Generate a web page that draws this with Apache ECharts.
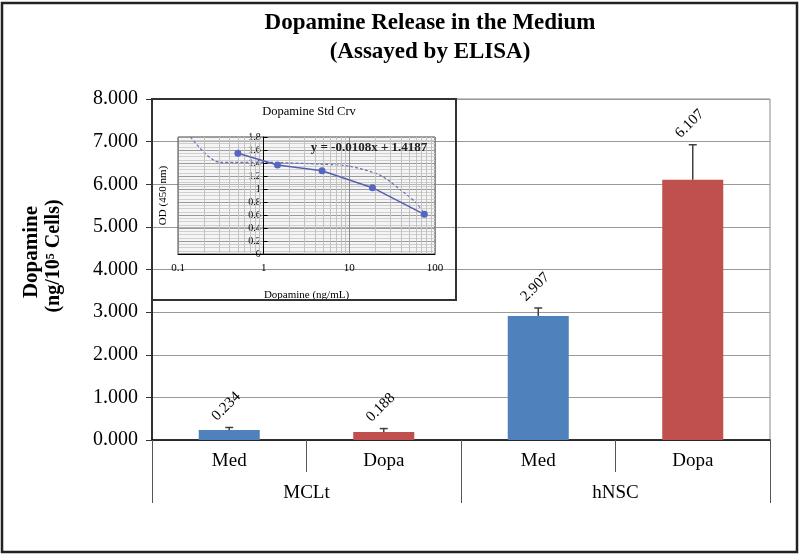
<!DOCTYPE html>
<html>
<head>
<meta charset="utf-8">
<script src="https://cdn.jsdelivr.net/npm/echarts@6/dist/echarts.min.js"></script>
<style>html,body{margin:0;padding:0;background:#fff}#c{width:800px;height:557px}</style>
</head>
<body>
<div id="c"></div>
<script>
// ---- main chart data ----
const treatments = ['Med', 'Dopa', 'Med', 'Dopa'];
const cellLines = ['MCLt', 'hNSC'];
const dopamine = [0.234, 0.188, 2.907, 6.107];
const errors = [0.06, 0.08, 0.19, 0.82];
const yTicks = [0, 1, 2, 3, 4, 5, 6, 7, 8];
const titleLines = ['Dopamine Release in the Medium', '(Assayed by ELISA)'];
// ---- inset standard curve data ----
const stdConc = [0.5, 1.45, 4.8, 18.6, 75];
const stdOD = [1.55, 1.37, 1.28, 1.02, 0.61];
const trendConc = [0.14, 0.31, 1, 5, 10, 23, 42, 61, 75];
const trendOD = [1.8, 1.41, 1.41, 1.38, 1.35, 1.21, 0.96, 0.78, 0.62];
const minorGridX = [0.2,0.3,0.4,0.5,0.6,0.7,0.8,0.9,2,3,4,5,6,7,8,9,20,30,40,50,60,70,80,90];
const equation = 'y = -0.0108x + 1.4187';

const colors = ['#4F81BD', '#C0504D', '#4F81BD', '#C0504D'];
const serif = '"Liberation Serif", "Times New Roman", serif';

const chart = echarts.init(document.getElementById('c'));
chart.setOption({
  animation: false,
  backgroundColor: '#fff',
  grid: [
    { left: 152, top: 99, right: 30, bottom: 117, show: true, borderColor: '#888', borderWidth: 1, backgroundColor: 'transparent', z: 0 },
    { left: 178, top: 137, width: 257, height: 117, show: true, borderColor: '#444', borderWidth: 1, backgroundColor: 'rgba(225,225,225,0.35)', z: 2 }
  ],
  xAxis: [
    {
      type: 'category', gridIndex: 0, data: treatments,
      axisLine: { lineStyle: { color: '#000', width: 1.5 } },
      axisTick: { show: true, interval: 0, length: 32, lineStyle: { color: '#555', width: 1 } },
      axisLabel: { interval: 0, margin: 12, fontFamily: serif, fontSize: 19, color: '#000' },
      splitLine: { show: false }
    },
    {
      type: 'category', gridIndex: 0, data: cellLines, position: 'bottom',
      axisLine: { show: false },
      axisTick: { show: true, interval: 0, length: 63, lineStyle: { color: '#555', width: 1 } },
      axisLabel: { interval: 0, margin: 44, fontFamily: serif, fontSize: 19, color: '#000' },
      splitLine: { show: false }
    },
    {
      type: 'log', logBase: 10, gridIndex: 1, min: 0.1, max: 100, z: 3,
      axisLine: { show: true, lineStyle: { color: '#000', width: 1 } },
      axisTick: { show: false },
      axisLabel: { margin: 9, fontFamily: serif, fontSize: 11, color: '#000' },
      splitLine: { show: true, lineStyle: { color: '#8a8a8a', width: 1 } },
      name: 'Dopamine (ng/mL)', nameLocation: 'middle', nameGap: 36,
      nameTextStyle: { fontFamily: serif, fontSize: 11, color: '#000' }
    }
  ],
  yAxis: [
    {
      type: 'value', gridIndex: 0, min: yTicks[0], max: yTicks[yTicks.length - 1], interval: 1,
      axisLine: { show: true, lineStyle: { color: '#000', width: 1.5 } },
      axisTick: { show: true, length: 6, lineStyle: { color: '#333' } },
      axisLabel: { margin: 14, fontFamily: serif, fontSize: 20, color: '#000', formatter: v => v.toFixed(3) },
      splitLine: { show: true, lineStyle: { color: '#999', width: 1 } }
    },
    {
      type: 'value', gridIndex: 1, min: 0, max: 1.8, interval: 0.2, offset: -85.7, z: 3,
      axisLine: { show: true, onZero: false, lineStyle: { color: '#000', width: 1 } },
      axisTick: { show: true, inside: true, length: 4, lineStyle: { color: '#000' } },
      axisLabel: { margin: 3, fontFamily: serif, fontSize: 10, color: '#000' },
      splitLine: { show: true, lineStyle: { color: '#9a9a9a', width: 1 } },
      minorTick: { show: false, splitNumber: 4 },
      minorSplitLine: { show: true, lineStyle: { color: '#cfcfcf', width: 1 } },
      name: 'OD (450 nm)', nameLocation: 'middle', nameGap: 95, nameRotate: 90,
      nameTextStyle: { fontFamily: serif, fontSize: 11, color: '#000' }
    }
  ],
  graphic: [
    { type: 'rect', shape: { x: 2, y: 3, width: 795, height: 549 }, style: { fill: 'none', stroke: '#222', lineWidth: 2.5 }, z: 10 },
    { type: 'text', x: 430, y: 23, style: { text: titleLines[0], fontFamily: serif, fontSize: 23, fontWeight: 'bold', fill: '#000', textAlign: 'center', textVerticalAlign: 'middle' }, z: 10 },
    { type: 'text', x: 430, y: 52, style: { text: titleLines[1], fontFamily: serif, fontSize: 23, fontWeight: 'bold', fill: '#000', textAlign: 'center', textVerticalAlign: 'middle' }, z: 10 },
    { type: 'rect', shape: { x: 152, y: 99, width: 304, height: 201 }, style: { fill: 'none', stroke: '#333', lineWidth: 2 }, z: 10 },
    { type: 'text', x: 309, y: 112, style: { text: 'Dopamine Std Crv', fontFamily: serif, fontSize: 12.5, fill: '#000', textAlign: 'center', textVerticalAlign: 'middle' }, z: 10 },
    { type: 'text', x: 369, y: 148, style: { text: equation, fontFamily: serif, fontSize: 13, fontWeight: 'bold', fill: '#222', textAlign: 'center', textVerticalAlign: 'middle' }, z: 10 },
    { type: 'text', x: 32, y: 252, rotation: Math.PI / 2, style: { text: 'Dopamine', fontFamily: serif, fontSize: 21, fontWeight: 'bold', fill: '#000', textAlign: 'center', textVerticalAlign: 'middle' }, z: 10 },
    { type: 'text', x: 54, y: 256, rotation: Math.PI / 2, style: { text: '(ng/10⁵ Cells)', fontFamily: serif, fontSize: 20, fontWeight: 'bold', fill: '#000', textAlign: 'center', textVerticalAlign: 'middle' }, z: 10 }
  ],
  series: [
    {
      type: 'bar', xAxisIndex: 0, yAxisIndex: 0, barWidth: '39.5%', z: 2,
      data: dopamine.map((v, i) => ({ value: v, itemStyle: { color: colors[i] } }))
    },
    {
      type: 'custom', xAxisIndex: 0, yAxisIndex: 0, z: 3,
      data: dopamine.map((v, i) => [i, v, errors[i]]),
      renderItem: function (params, api) {
        const i = api.value(0), v = api.value(1), e = api.value(2);
        const p0 = api.coord([i, v]);
        const p1 = api.coord([i, v + e]);
        const st = { stroke: '#404040', lineWidth: 1.5 };
        return {
          type: 'group',
          children: [
            { type: 'line', shape: { x1: p0[0], y1: p0[1], x2: p1[0], y2: p1[1] }, style: st },
            { type: 'line', shape: { x1: p1[0] - 4, y1: p1[1], x2: p1[0] + 4, y2: p1[1] }, style: st },
            { type: 'text', x: p1[0] - 3, y: p1[1] - 21, rotation: Math.PI / 4,
              style: { text: v.toFixed(3), fontFamily: serif, fontSize: 15, fill: '#000', textAlign: 'center', textVerticalAlign: 'middle' } }
          ]
        };
      }
    },
    {
      type: 'line', xAxisIndex: 2, yAxisIndex: 1, z: 3, silent: true,
      data: [], symbol: 'none',
      markLine: {
        silent: true, symbol: 'none', label: { show: false },
        lineStyle: { color: '#c2c2c2', width: 1, type: 'solid' },
        data: minorGridX.map(x => ({ xAxis: x }))
      }
    },
    {
      type: 'line', xAxisIndex: 2, yAxisIndex: 1, z: 4,
      data: trendConc.map((c, i) => [c, trendOD[i]]),
      symbol: 'none', smooth: 0.3,
      lineStyle: { color: '#6a72b8', width: 1.2, type: [3, 2] }
    },
    {
      type: 'line', xAxisIndex: 2, yAxisIndex: 1, z: 5,
      data: stdConc.map((c, i) => [c, stdOD[i]]),
      symbol: 'circle', symbolSize: 7,
      itemStyle: { color: '#5566c0' },
      lineStyle: { color: '#5560b0', width: 1.5 }
    }
  ]
});
</script>
</body>
</html>
